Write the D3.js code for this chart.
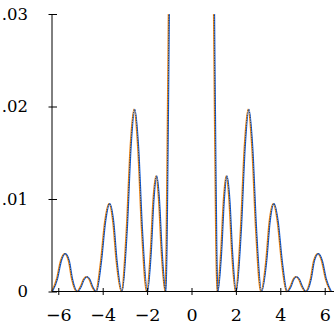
<!DOCTYPE html>
<html><head><meta charset="utf-8">
<script src="https://cdn.jsdelivr.net/npm/d3@7"></script>
<style>body{margin:0;background:#fff}svg{display:block}</style>
</head><body>
<svg id="c" width="334" height="329"></svg>
<script>
// x positions and values (null = off the top of the chart)
const xs = [-6.28,-6.05,-5.88,-5.70,-5.52,-5.38,-5.15,
  -4.98,-4.85,-4.72,-4.59,-4.47,-4.30,
  -4.07,-3.89,-3.70,-3.52,-3.37,-3.14,
  -2.91,-2.74,-2.57,-2.40,-2.23,-2.00,
  -1.83,-1.71,-1.58,-1.46,-1.34,-1.17,
  -1.12,-1.08,-1.04,-1.00,-0.96,
  0,
  0.96,1.00,1.04,1.08,1.12,
  1.17,1.34,1.46,1.58,1.71,1.83,
  2.00,2.23,2.40,2.57,2.74,2.91,
  3.14,3.37,3.52,3.70,3.89,4.07,
  4.30,4.47,4.59,4.72,4.85,4.98,
  5.15,5.38,5.52,5.70,5.88,6.05,6.28];
const ys = [0,0.0014,0.0033,0.0041,0.0033,0.0014,0,
  0.00055,0.0013,0.0016,0.0013,0.00055,0,
  0.0033,0.0075,0.0095,0.0075,0.0033,0,
  0.0068,0.0156,0.0197,0.0156,0.0068,0,
  0.0043,0.0099,0.0125,0.0099,0.0043,0,
  0.005,0.014,0.024,0.035,0.048,
  null,
  0.048,0.035,0.024,0.014,0.005,
  0,0.0043,0.0099,0.0125,0.0099,0.0043,
  0,0.0068,0.0156,0.0197,0.0156,0.0068,
  0,0.0033,0.0075,0.0095,0.0075,0.0033,
  0,0.00055,0.0013,0.0016,0.0013,0.00055,
  0,0.0014,0.0033,0.0041,0.0033,0.0014,0];
const xTicks = [-6,-4,-2,0,2,4,6];
const yTicks = [0,0.01,0.02,0.03];
const yTickLabels = ["0",".01",".02",".03"];

const svg = d3.select("#c");
const x = d3.scaleLinear().domain([-2*Math.PI, 2*Math.PI]).range([52, 331]);
const y = d3.scaleLinear().domain([0, 0.03]).range([291.5, 14]);

const data = xs.map((d,i)=>({x:d,y:ys[i]}));
svg.append("defs").append("clipPath").attr("id","clip")
  .append("rect").attr("x",50).attr("y",14).attr("width",284).attr("height",280);

const line = d3.line().defined(d=>d.y!==null).x(d=>x(d.x)).y(d=>y(d.y)).curve(d3.curveMonotoneX);
const g = svg.append("g").attr("clip-path","url(#clip)");
g.append("path").datum(data).attr("d",line).attr("fill","none")
  .attr("stroke","#ef8a1c").attr("stroke-width",1.4).attr("transform","translate(-0.5,0)");
g.append("path").datum(data).attr("d",line).attr("fill","none")
  .attr("stroke","#1a66e0").attr("stroke-width",1.1).attr("transform","translate(0.5,0)");
g.append("path").datum(data).attr("d",line).attr("fill","none")
  .attr("stroke","#111").attr("stroke-width",0.7).attr("stroke-dasharray","1,1.5");

const FONT = "DejaVu Serif";
const xa = svg.append("g").attr("transform",`translate(0,${y(0)})`)
  .call(d3.axisBottom(x).tickValues(xTicks).tickSize(0).tickPadding(0));
xa.attr("font-family",FONT).attr("font-size",17.5);
xa.select(".domain").remove();
xa.selectAll(".tick line").attr("y1",-3.5).attr("y2",3.5).attr("stroke","#000");
xa.selectAll(".tick text").attr("y",24).attr("dy","0.32em").attr("fill","#000")
  .style("font-family",FONT);
svg.append("line").attr("x1",x(-2*Math.PI)).attr("x2",334).attr("y1",y(0)).attr("y2",y(0)).attr("stroke","#000");

const ya = svg.append("g").attr("transform",`translate(${x(-2*Math.PI)},0)`)
  .call(d3.axisLeft(y).tickValues(yTicks).tickFormat((d,i)=>yTickLabels[i]).tickSize(0).tickPadding(0));
ya.attr("font-family",FONT).attr("font-size",16.5);
ya.select(".domain").remove();
ya.selectAll(".tick line").attr("x1",-3.5).attr("x2",5).attr("stroke","#000");
ya.selectAll(".tick text").attr("x",-24).attr("dy","0.32em").attr("fill","#000")
  .style("font-family",FONT);
svg.append("line").attr("x1",x(-2*Math.PI)).attr("x2",x(-2*Math.PI)).attr("y1",y(0)).attr("y2",y(0.03)).attr("stroke","#000");
</script>
</body></html>
